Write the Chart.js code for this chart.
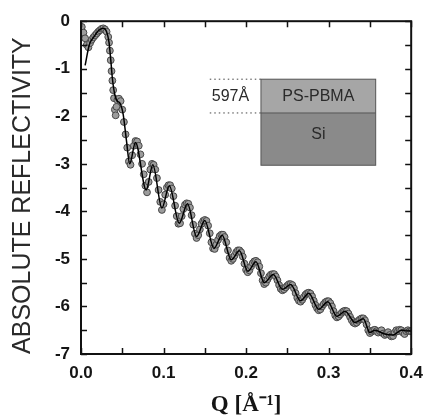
<!DOCTYPE html>
<html lang="en">
<head>
<meta charset="UTF-8">
<title>Absolute reflectivity</title>
<style>
  body { margin: 0; background: #fff; }
  #chartBox { width: 432px; height: 417px; }
</style>
</head>
<body>
<div id="chartBox"><canvas id="reflChart" width="432" height="417"></canvas></div>
<script src="https://cdn.jsdelivr.net/npm/chart.js"></script>
<script>
// measured points (Q in 1/A, log10 reflectivity)
var qData = [
  0.001, 0.003, 0.005, 0.007, 0.009, 0.011, 0.013, 0.015, 0.017, 0.019,
  0.021, 0.023, 0.025, 0.027, 0.029, 0.031, 0.033, 0.034, 0.035, 0.036,
  0.037, 0.038, 0.039, 0.040, 0.041, 0.042, 0.043, 0.044, 0.046, 0.048,
  0.050, 0.052, 0.054, 0.056, 0.058, 0.060, 0.062, 0.064, 0.066, 0.068,
  0.070, 0.072, 0.074, 0.076, 0.078, 0.080, 0.082, 0.084, 0.086, 0.088,
  0.090, 0.092, 0.094, 0.096, 0.098, 0.100, 0.102, 0.104, 0.106, 0.108,
  0.110, 0.112, 0.114, 0.116, 0.118, 0.120, 0.122, 0.124, 0.126, 0.128,
  0.130, 0.132, 0.134, 0.136, 0.138, 0.140, 0.142, 0.144, 0.146, 0.148,
  0.150, 0.152, 0.154, 0.156, 0.158, 0.160, 0.162, 0.164, 0.166, 0.168,
  0.170, 0.172, 0.174, 0.176, 0.178, 0.180, 0.182, 0.184, 0.186, 0.188,
  0.190, 0.192, 0.194, 0.196, 0.198, 0.200, 0.202, 0.204, 0.206, 0.208,
  0.210, 0.212, 0.214, 0.216, 0.218, 0.220, 0.222, 0.224, 0.226, 0.228,
  0.230, 0.232, 0.234, 0.236, 0.238, 0.240, 0.242, 0.244, 0.246, 0.248,
  0.250, 0.252, 0.254, 0.256, 0.258, 0.260, 0.262, 0.264, 0.266, 0.268,
  0.270, 0.272, 0.274, 0.276, 0.278, 0.280, 0.282, 0.284, 0.286, 0.288,
  0.290, 0.292, 0.294, 0.296, 0.298, 0.300, 0.302, 0.304, 0.306, 0.308,
  0.310, 0.312, 0.314, 0.316, 0.318, 0.320, 0.322, 0.324, 0.326, 0.328,
  0.330, 0.332, 0.334, 0.336, 0.338, 0.340, 0.342, 0.344, 0.346, 0.348,
  0.350, 0.352, 0.354, 0.356, 0.358, 0.360, 0.362, 0.364, 0.366, 0.368,
  0.370, 0.372, 0.374, 0.376, 0.378, 0.380, 0.382, 0.384, 0.386, 0.388,
  0.390, 0.392, 0.394, 0.396, 0.398, 0.400
];
var rData = [
  -0.12, -0.24, -0.36, -0.50, -0.55, -0.46, -0.39, -0.34, -0.30, -0.26,
  -0.22, -0.19, -0.16, -0.15, -0.17, -0.22, -0.33, -0.45, -0.62, -0.82,
  -1.05, -1.25, -1.45, -1.62, -1.86, -1.98, -1.80, -1.66, -1.63, -1.68,
  -1.86, -2.12, -2.38, -2.66, -2.95, -3.02, -2.82, -2.62, -2.52, -2.53,
  -2.62, -2.80, -3.00, -3.22, -3.46, -3.60, -3.38, -3.12, -3.00, -3.02,
  -3.12, -3.30, -3.55, -3.80, -3.97, -3.85, -3.65, -3.50, -3.45, -3.45,
  -3.52, -3.68, -3.88, -4.10, -4.26, -4.25, -4.10, -3.95, -3.86, -3.83,
  -3.84, -3.92, -4.08, -4.28, -4.47, -4.56, -4.50, -4.38, -4.26, -4.20,
  -4.18, -4.20, -4.30, -4.46, -4.65, -4.78, -4.79, -4.70, -4.60, -4.52,
  -4.49, -4.49, -4.54, -4.65, -4.82, -4.98, -5.04, -5.00, -4.93, -4.86,
  -4.82, -4.82, -4.86, -4.95, -5.10, -5.23, -5.28, -5.24, -5.16, -5.09,
  -5.05, -5.04, -5.07, -5.16, -5.30, -5.45, -5.53, -5.50, -5.43, -5.37,
  -5.33, -5.32, -5.32, -5.37, -5.45, -5.55, -5.63, -5.66, -5.64, -5.60,
  -5.56, -5.53, -5.53, -5.55, -5.62, -5.72, -5.82, -5.88, -5.90, -5.86,
  -5.80, -5.75, -5.72, -5.71, -5.73, -5.79, -5.88, -5.97, -6.04, -6.08,
  -6.06, -6.00, -5.95, -5.91, -5.89, -5.89, -5.93, -6.00, -6.10, -6.19,
  -6.23, -6.21, -6.17, -6.13, -6.10, -6.09, -6.10, -6.15, -6.22, -6.29,
  -6.34, -6.36, -6.34, -6.30, -6.27, -6.25, -6.25, -6.29, -6.38, -6.50,
  -6.56, -6.53, -6.50, -6.49, -6.52, -6.55, -6.52, -6.50, -6.57, -6.60,
  -6.58, -6.54, -6.60, -6.63, -6.62, -6.55, -6.50, -6.52, -6.49, -6.50,
  -6.55, -6.58, -6.52, -6.50, -6.52, -6.52
];

// model fit curve (extrema and turning points)
var qFit = [
  0.005, 0.010, 0.016, 0.021, 0.027, 0.031, 0.034, 0.036, 0.038, 0.041,
  0.044, 0.047, 0.051, 0.055, 0.059, 0.066, 0.079, 0.087, 0.098, 0.107,
  0.119, 0.129, 0.140, 0.150, 0.161, 0.171, 0.182, 0.192, 0.202, 0.212,
  0.222, 0.233, 0.244, 0.254, 0.266, 0.276, 0.288, 0.299, 0.310, 0.320,
  0.332, 0.342, 0.350, 0.356, 0.368, 0.378, 0.388, 0.400
];
var rFit = [
  -0.93, -0.50, -0.32, -0.20, -0.15, -0.22, -0.45, -0.80, -1.20, -1.55,
  -1.68, -1.72, -1.95, -2.50, -3.00, -2.55, -3.55, -3.02, -3.93, -3.46,
  -4.25, -3.84, -4.53, -4.19, -4.78, -4.50, -5.02, -4.83, -5.26, -5.06,
  -5.50, -5.33, -5.64, -5.54, -5.88, -5.72, -6.06, -5.90, -6.21, -6.10,
  -6.34, -6.26, -6.55, -6.50, -6.58, -6.60, -6.50, -6.52
];

var xTicks = [0, 0.1, 0.2, 0.3, 0.4];
var yTicks = [0, -1, -2, -3, -4, -5, -6, -7];
var layerNames = ['PS-PBMA', 'Si'];
var thicknessLabel = '597Å';
var yTitle = 'ABSOLUTE REFLECTIVITY';

function toPoints(xs, ys) {
  var pts = [];
  for (var i = 0; i < xs.length; i++) pts.push({ x: xs[i], y: ys[i] });
  return pts;
}

// frame, inward ticks, y title and the layer sketch
var framePlugin = {
  id: 'frame',
  afterDraw: function(chart) {
    var ctx = chart.ctx;
    var a = chart.chartArea;
    var xs = chart.scales.x, ys = chart.scales.y;
    ctx.save();
    ctx.strokeStyle = '#111';
    ctx.lineWidth = 2;
    ctx.strokeRect(a.left, a.top, a.right - a.left, a.bottom - a.top);

    ctx.lineWidth = 1.5;
    ctx.beginPath();
    for (var v = 0; v <= 0.4001; v += 0.05) {
      var px = Math.round(xs.getPixelForValue(v)) + 0.5;
      ctx.moveTo(px, a.bottom); ctx.lineTo(px, a.bottom - 6);
      ctx.moveTo(px, a.top); ctx.lineTo(px, a.top + 6);
    }
    for (var w = -7; w <= 0.001; w += 0.5) {
      var py = Math.round(ys.getPixelForValue(w)) + 0.5;
      ctx.moveTo(a.left, py); ctx.lineTo(a.left + 6, py);
      ctx.moveTo(a.right, py); ctx.lineTo(a.right - 6, py);
    }
    ctx.stroke();

    // rotated y title, sits a little below the axis centre like the original
    ctx.save();
    ctx.translate(23, (a.top + a.bottom) / 2 + 8);
    ctx.rotate(-Math.PI / 2);
    ctx.fillStyle = '#2a2a2a';
    ctx.font = '25px "Liberation Sans", Arial, sans-serif';
    ctx.textAlign = 'center';
    ctx.textBaseline = 'middle';
    ctx.fillText(yTitle, 0, 0);
    ctx.restore();

    // layer sketch
    var x0 = xs.getPixelForValue(0.218), x1 = xs.getPixelForValue(0.357);
    var y0 = ys.getPixelForValue(-1.22), y1 = ys.getPixelForValue(-1.93), y2 = ys.getPixelForValue(-3.03);
    var xd = xs.getPixelForValue(0.156);
    ctx.fillStyle = '#a6a6a6';
    ctx.fillRect(x0, y0, x1 - x0, y1 - y0);
    ctx.fillStyle = '#8a8a8a';
    ctx.fillRect(x0, y1, x1 - x0, y2 - y1);
    ctx.strokeStyle = '#555';
    ctx.lineWidth = 1;
    ctx.strokeRect(x0, y0, x1 - x0, y2 - y0);
    ctx.beginPath(); ctx.moveTo(x0, y1); ctx.lineTo(x1, y1); ctx.stroke();

    ctx.setLineDash([1.5, 3]);
    ctx.strokeStyle = '#444';
    ctx.beginPath();
    ctx.moveTo(xd, y0); ctx.lineTo(x0, y0);
    ctx.moveTo(xd, y1); ctx.lineTo(x0, y1);
    ctx.stroke();
    ctx.setLineDash([]);

    ctx.fillStyle = '#2a2a2a';
    ctx.font = '16px "Liberation Sans", Arial, sans-serif';
    ctx.textAlign = 'center';
    ctx.textBaseline = 'middle';
    ctx.fillText(layerNames[0], (x0 + x1) / 2, (y0 + y1) / 2 + 1);
    ctx.fillText(layerNames[1], (x0 + x1) / 2, (y1 + y2) / 2 - 5);
    ctx.textAlign = 'left';
    ctx.fillText(thicknessLabel, xd + 2, (y0 + y1) / 2 + 1);
    ctx.restore();
  }
};

var ctx = document.getElementById('reflChart').getContext('2d');
var reflChart = new Chart(ctx, {
  type: 'scatter',
  data: {
    datasets: [{
      label: 'Fit',
      data: toPoints(qFit, rFit),
      showLine: true,
      borderColor: '#000',
      borderWidth: 1.5,
      pointRadius: 0,
      cubicInterpolationMode: 'monotone',
      order: 0
    }, {
      label: 'Data',
      data: toPoints(qData, rData),
      showLine: false,
      backgroundColor: '#9c9c9c',
      borderColor: '#474747',
      borderWidth: 1,
      pointRadius: 3.4,
      order: 1
    }]
  },
  options: {
    responsive: false,
    animation: false,
    layout: { padding: { left: 0, right: 13, top: 17, bottom: 0 } },
    plugins: { legend: { display: false }, tooltip: { enabled: false } },
    scales: {
      x: {
        type: 'linear',
        min: 0, max: 0.4,
        afterFit: function(scale) { scale.height = 63; },
        afterBuildTicks: function(scale) {
          scale.ticks = xTicks.map(function(v) { return { value: v }; });
        },
        grid: { drawOnChartArea: false, drawTicks: false },
        border: { display: false },
        ticks: {
          padding: 9,
          color: '#151515',
          font: { family: '"Liberation Sans", Arial, sans-serif', size: 17, weight: 'bold' },
          callback: function(v) { return v.toFixed(1); }
        },
        title: {
          display: true,
          text: 'Q [Å⁻¹]',
          color: '#151515',
          padding: { top: 0, bottom: 0 },
          font: { family: '"Liberation Serif", "Times New Roman", serif', size: 23, weight: 'bold', lineHeight: 1 }
        }
      },
      y: {
        type: 'linear',
        min: -7, max: 0,
        afterFit: function(scale) { scale.width = 81; },
        afterBuildTicks: function(scale) {
          scale.ticks = yTicks.map(function(v) { return { value: v }; });
        },
        grid: { drawOnChartArea: false, drawTicks: false },
        border: { display: false },
        ticks: {
          padding: 11,
          color: '#151515',
          font: { family: '"Liberation Sans", Arial, sans-serif', size: 17, weight: 'bold' },
          callback: function(v) { return String(v); }
        },
        title: { display: false }
      }
    }
  },
  plugins: [framePlugin]
});
</script>
</body>
</html>
